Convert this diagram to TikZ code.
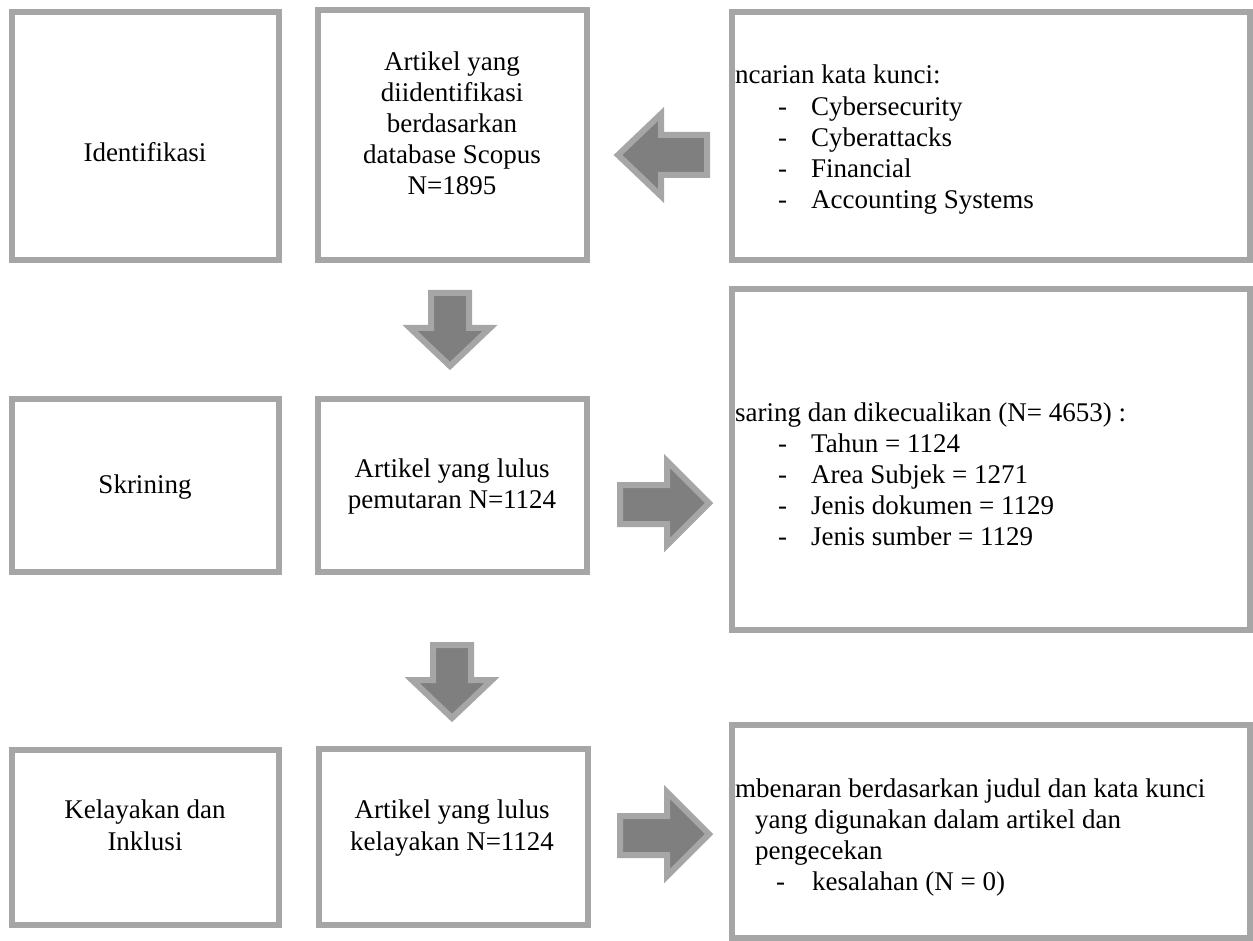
\documentclass[tikz,border=0pt]{standalone}
\usepackage{fontspec}
\setmainfont{Liberation Serif}
\definecolor{boxgray}{HTML}{A6A6A6}
\definecolor{arrowgray}{HTML}{7F7F7F}

\begin{document}
\begin{tikzpicture}[x=1pt, y=-1pt,
	box/.style={draw=boxgray, line width=6pt},
	blockarrow/.style={draw=boxgray, fill=arrowgray, line width=6pt, line join=miter},
	txt/.style={inner sep=0pt, font=\fontsize{27}{31.2}\selectfont, anchor=base}]
			\useasboundingbox (0,0) rectangle (1253,941);

			% kotak
			\draw[box] (12,12) rectangle (279,260);
			\draw[box] (318,10) rectangle (587,260);
			\draw[box] (732,12) rectangle (1250,260);
			\draw[box] (12,399) rectangle (279,572);
			\draw[box] (318,399) rectangle (587,572);
			\draw[box] (732,289) rectangle (1250,630);
			\draw[box] (12,750) rectangle (279,925);
			\draw[box] (319,749) rectangle (588,925);
			\draw[box] (732,725) rectangle (1250,938);

			% panah
			\draw[blockarrow] (707,135) -- (661,135) -- (661,114) -- (618,155) -- (661,196) -- (661,175) -- (707,175) -- cycle;
			\foreach \dx/\dy in {0/0,2/352}
			\draw[blockarrow, shift={(\dx,\dy)}] (431,293) -- (469,293) -- (469,328) -- (490,328) -- (450,366) -- (410,328) -- (431,328) -- cycle;
			\foreach \dy in {0,331}
			\draw[blockarrow, shift={(0,\dy)}] (620,485) -- (667,485) -- (667,461) -- (709,503) -- (667,545) -- (667,524) -- (620,524) -- cycle;

			% kolom kiri
			\node[txt] (ident) at (145,162) {Identifikasi};
			\node[txt] (skrin) at (145,493) {Skrining};
			\node[txt] (layak-1) at (145,818) {Kelayakan dan};
			\node[txt] (layak-2) at (145,850) {Inklusi};

			% kolom tengah
			\foreach \l [count=\i] in {Artikel yang, diidentifikasi, berdasarkan, database Scopus, N=1895}
			\node[txt] (found-\i) at (452,{39+31.2*\i}) {\l};
			\node[txt] (lulus-1) at (452,477) {Artikel yang lulus};
			\node[txt] (lulus-2) at (452,508) {pemutaran N=1124};
			\node[txt] (final-1) at (452,818) {Artikel yang lulus};
			\node[txt] (final-2) at (452,850) {kelayakan N=1124};

			% kolom kanan
			\node[txt, anchor=base west] (cari) at (735,84) {ncarian kata kunci:};
			\foreach \l [count=\i] in {Cybersecurity, Cyberattacks, Financial, Accounting Systems}
			{
				\node[txt, anchor=base west] (cari-dash-\i) at (778,{84+31.2*\i}) {-};
				\node[txt, anchor=base west] (cari-\i) at (811,{84+31.2*\i}) {\l};
			}

			\node[txt, anchor=base west] (saring) at (735,421) {saring dan dikecualikan (N= 4653) :};
			\foreach \l [count=\i] in {{Tahun = 1124}, {Area Subjek = 1271}, {Jenis dokumen = 1129}, {Jenis sumber = 1129}}
			{
				\node[txt, anchor=base west] (saring-dash-\i) at (778,{421+31.2*\i}) {-};
				\node[txt, anchor=base west] (saring-\i) at (811,{421+31.2*\i}) {\l};
			}

			\node[txt, anchor=base west] (benar-1) at (735,797) {mbenaran berdasarkan judul dan kata kunci};
			\node[txt, anchor=base west] (benar-2) at (755,828) {yang digunakan dalam artikel dan};
			\node[txt, anchor=base west] (benar-3) at (755,859) {pengecekan};
			\node[txt, anchor=base west] (benar-dash) at (776,890) {-};
			\node[txt, anchor=base west] (benar-4) at (812,890) {kesalahan (N = 0)};
		\end{tikzpicture}
\end{document}
